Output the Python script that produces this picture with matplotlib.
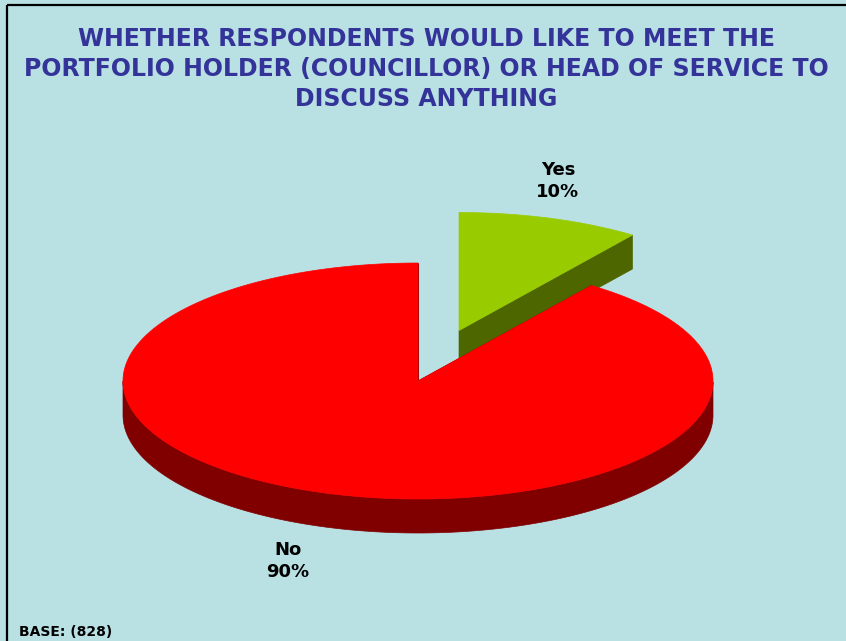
import numpy as np
import matplotlib
matplotlib.use("Agg")
import matplotlib.pyplot as plt
from matplotlib.patches import Polygon

# ---- data ----
labels = ["Yes", "No"]
values = [10, 90]
top_colors = ["#99CC00", "#FF0000"]
side_colors = ["#4D6600", "#800000"]
explode = [0.45, 0.0]
title = ("WHETHER RESPONDENTS WOULD LIKE TO MEET THE\n"
         "PORTFOLIO HOLDER (COUNCILLOR) OR HEAD OF SERVICE TO\n"
         "DISCUSS ANYTHING")
base_text = "BASE: (828)"

W, H = 846, 641
bg = "#B9E0E3"
fig = plt.figure(figsize=(W / 100, H / 100), dpi=100, facecolor=bg)
ax = fig.add_axes([0, 0, 1, 1])
ax.set_xlim(0, W)
ax.set_ylim(H, 0)
ax.axis("off")
ax.set_facecolor(bg)

# frame lines (top and left)
ax.plot([7, W], [5, 5], color="black", lw=1.6, solid_capstyle="butt")
ax.plot([7, 7], [5, H], color="black", lw=1.6, solid_capstyle="butt")

# 3D pie geometry (pixel space)
cx, cy, rx, ry, depth = 418, 381, 295, 118, 34


def pt(a_deg, ox, oy, r=1.0, dz=0.0):
    a = np.radians(a_deg)
    return ox + r * rx * np.cos(a), oy - r * ry * np.sin(a) + dz


total = float(sum(values))
start = 90.0
slices = []
for lab, v, tc, sc, ex in zip(labels, values, top_colors, side_colors, explode):
    span = 360.0 * v / total
    hi = start
    lo = start - span
    mid = np.radians((hi + lo) / 2)
    ox = cx + ex * rx * np.cos(mid)
    oy = cy - ex * ry * np.sin(mid)
    slices.append((lab, v, lo, hi, ox, oy, tc, sc))
    start = lo

for lab, v, lo, hi, ox, oy, tc, sc in slices:
    # radial walls
    for a in (lo, hi):
        x1, y1 = pt(a, ox, oy)
        quad = [(ox, oy), (x1, y1), (x1, y1 + depth), (ox, oy + depth)]
        ax.add_patch(Polygon(quad, closed=True, facecolor=sc, edgecolor=sc, lw=0.5))
    # outer front wall: angles with sin < 0
    angs = np.linspace(lo, hi, 400)
    front = np.sin(np.radians(angs)) < 0
    if front.any():
        idx = np.where(front)[0]
        groups = np.split(idx, np.where(np.diff(idx) != 1)[0] + 1)
        for g in groups:
            aa = angs[g]
            xs = ox + rx * np.cos(np.radians(aa))
            ys = oy - ry * np.sin(np.radians(aa))
            poly = list(zip(xs, ys)) + list(zip(xs[::-1], ys[::-1] + depth))
            ax.add_patch(Polygon(poly, closed=True, facecolor=sc, edgecolor=sc, lw=0.5))
    # top face
    aa = np.linspace(lo, hi, 400)
    xs = ox + rx * np.cos(np.radians(aa))
    ys = oy - ry * np.sin(np.radians(aa))
    poly = [(ox, oy)] + list(zip(xs, ys))
    ax.add_patch(Polygon(poly, closed=True, facecolor=tc, edgecolor=tc, lw=0.5))

# labels
label_pos = {"Yes": (558, 181), "No": (288, 561)}
for lab, v, *_ in slices:
    x, y = label_pos[lab]
    ax.text(x, y, f"{lab}\n{v}%", ha="center", va="center", fontsize=13,
            fontweight="bold", color="black", linespacing=1.25,
            family="DejaVu Sans")

ax.text(426, 69, title, ha="center", va="center", fontsize=17,
        fontweight="bold", color="#333399", linespacing=1.33,
        family="DejaVu Sans")

ax.text(19, 632, base_text, ha="left", va="center", fontsize=10,
        fontweight="bold", color="black", family="DejaVu Sans")

fig.savefig("out.png", dpi=100, facecolor=bg)
